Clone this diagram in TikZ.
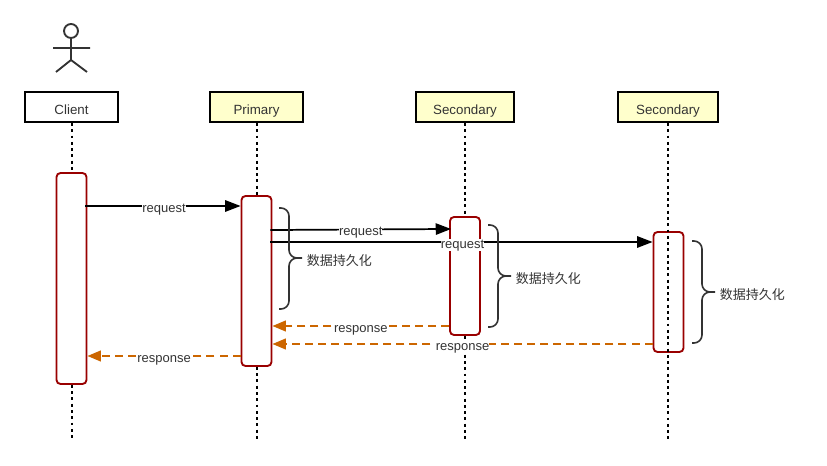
\documentclass[tikz,border=0pt]{standalone}
\usepackage{fontspec}
\setmainfont{Liberation Sans}
\newfontfamily\cjk{Noto Sans CJK SC}
\usetikzlibrary{arrows.meta}
\definecolor{ink}{HTML}{333333}
\definecolor{darkred}{HTML}{990000}
\definecolor{amber}{HTML}{CC6600}
\definecolor{paleyellow}{HTML}{FFFFCC}
\begin{document}
\begin{tikzpicture}[x=.75pt,y=-.75pt,every node/.style={font=\fontsize{9.75pt}{11pt}\selectfont,text=ink},
head/.style={draw=black,fill=white,line width=1.5pt,minimum width=69.75pt,minimum height=22.5pt,inner sep=0pt,font=\fontsize{10pt}{11pt}\selectfont,text height=11.5pt,text depth=0pt},
life/.style={black,line width=1.5pt,dash pattern=on 2.2pt off 2.5pt},
active/.style={draw=darkred,fill=white,line width=1.4pt,rounded corners=3pt,minimum width=22.5pt,inner sep=0pt},
request/.style={black,line width=1.3pt,shorten <=-1.5pt,-{Triangle[length=11.5pt,width=8.5pt]}},
response/.style={amber,line width=1.3pt,dash pattern=on 6pt off 3.8pt,-{Triangle[length=10pt,width=8pt]}},
msgtext/.style={fill=white,inner sep=0pt,text height=7pt,text depth=2pt,yshift=-2.2pt},
bracket/.style={ink,line width=1.2pt,rounded corners=6pt},
store/.style={font=\fontsize{9.75pt}{11pt}\cjk,anchor=west,inner sep=0pt}]
\fill[white] (0,0) rectangle (827,466);\useasboundingbox (0,0) rectangle (827,466);
% actor
\draw[ink,line width=1.4pt] (71,31) circle (7);\draw[ink,line width=1.4pt] (71,38)--(71,60) (53,48)--(90,48) (56,72)--(71,60)--(87,72);
% heads and bars
\node[head] (client) at (71.5,107){Client};\node[head,fill=paleyellow] (primary) at (256.5,107){Primary};
\node[head,fill=paleyellow,minimum width=73.5pt] (secondA) at (465,107){Secondary};\node[head,fill=paleyellow,minimum width=75pt] (secondB) at (668,107){Secondary};
\coordinate (clientEnd) at (71.5,440);\coordinate (primaryEnd) at (256.5,440);\coordinate (secondAEnd) at (465,440);\coordinate (secondBEnd) at (668,440);
\node[active,minimum height=158.25pt] (barClient) at (71.5,278.5){};\node[active,minimum height=127.5pt] (barPrimary) at (256.5,281){};
\node[active,minimum height=88.5pt] (barSecondA) at (465,276){};\node[active,minimum height=90pt,fill=none] (barSecondB) at (668.5,292){};
\draw[life] (client)--(barClient);\draw[life] (barClient)--(clientEnd);
\draw[life] (primary)--(barPrimary);\draw[life] (barPrimary)--(primaryEnd);
\draw[life] (secondA)--(barSecondA);\draw[life] (barSecondA)--(secondAEnd);
\draw[life] (secondB)--(secondBEnd);
% requests
\draw[request] (barClient.east |- 0,206)--(barPrimary.west |- 0,206) node[midway,msgtext] (reqPrimary){request};
\draw[request,shorten >=-1.5pt] (barPrimary.east |- 0,230)--(barSecondA.west |- 0,229) node[midway,msgtext] (reqSecondA){request};
\draw[request] (barPrimary.east |- 0,242)--(barSecondB.west |- 0,242) node[midway,msgtext] (reqSecondB){request};
% responses
\draw[response] (barSecondA.west |- 0,326)--(barPrimary.east |- 0,326) node[midway,msgtext] (respSecondA){response};
\draw[response] (barSecondB.west |- 0,344)--(barPrimary.east |- 0,344) node[midway,msgtext] (respSecondB){response};
\draw[response] (barPrimary.west |- 0,356)--(barClient.east |- 0,356) node[midway,msgtext] (respPrimary){response};
% persistence
\foreach \n/\x/\ya/\ym/\yb in {Primary/279/208/258/309,SecondA/488/225/276/327,SecondB/692/241/292/343}{
\draw[bracket] (\x,\ya)--({\x+10},\ya)--({\x+10},\ym)--({\x+23},\ym) (\x,\yb)--({\x+10},\yb)--({\x+10},\ym)--({\x+23},\ym);
\node[store] (store\n) at ({\x+27.5},{\ym+3}){数据持久化};}
\end{tikzpicture}
\end{document}
